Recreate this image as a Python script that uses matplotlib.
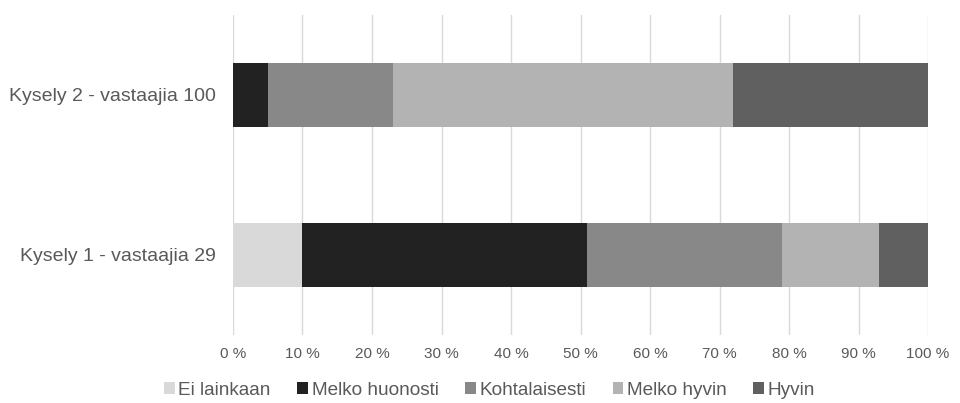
import numpy as np
import matplotlib.pyplot as plt

plt.rcParams['font.family'] = ['Liberation Sans', 'DejaVu Sans']

surveys = ["Kysely 1 - vastaajia 29", "Kysely 2 - vastaajia 100"]
answers = ["Ei lainkaan", "Melko huonosti", "Kohtalaisesti", "Melko hyvin", "Hyvin"]
# percentage shares per survey (Kysely 1, Kysely 2)
shares = {
    "Ei lainkaan":    [10, 0],
    "Melko huonosti": [41, 5],
    "Kohtalaisesti":  [28, 18],
    "Melko hyvin":    [14, 49],
    "Hyvin":          [7, 28],
}
colors = ["#d9d9d9", "#222222", "#888888", "#b3b3b3", "#606060"]
ticks = np.arange(0, 101, 10)

fig = plt.figure(figsize=(9.6, 4.03), dpi=100)
ax = fig.add_axes([0.2427, 0.169, 0.724, 0.794])

y = np.arange(len(surveys))
left = np.zeros(len(surveys))
for name, col in zip(answers, colors):
    vals = np.array(shares[name], dtype=float)
    ax.barh(y, vals, left=left, height=0.4, color=col, label=name, zorder=3)
    left += vals

ax.set_xlim(0, 100)
ax.set_ylim(-0.5, 1.5)
ax.set_xticks(ticks)
ax.set_xticklabels([f"{t} %" for t in ticks])
ax.set_yticks(y)
ax.set_yticklabels(surveys)
ax.grid(axis='x', color='#d9d9d9', linewidth=1, zorder=0)
for s in ax.spines.values():
    s.set_visible(False)
ax.tick_params(axis='both', length=0, colors='#595959')
ax.tick_params(axis='x', labelsize=11, pad=9)
ax.tick_params(axis='y', labelsize=14, pad=12)

leg = fig.legend(loc='center', bbox_to_anchor=(0.51, 0.032), ncol=5,
                 frameon=False, fontsize=13.7, handlelength=0.55, handleheight=0.55,
                 handletextpad=0.2, columnspacing=1.4, labelcolor='#595959')

plt.savefig("out.png", dpi=100)
